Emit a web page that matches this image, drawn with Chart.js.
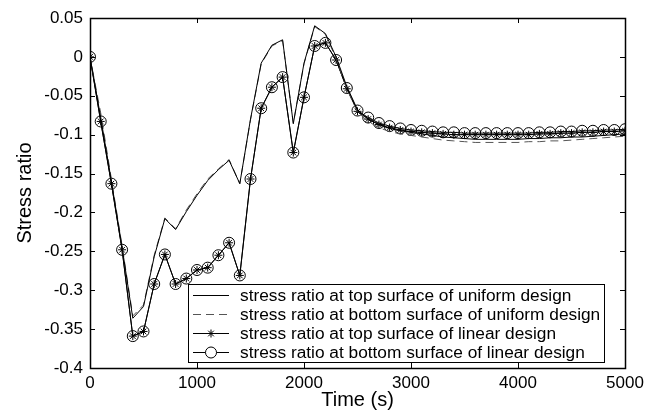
<!DOCTYPE html>
<html>
<head>
<meta charset="utf-8">
<script src="https://cdn.jsdelivr.net/npm/chart.js@4.4.1/dist/chart.umd.min.js"></script>
<style>
html,body{margin:0;padding:0;background:#fff;}
#wrap{width:660px;height:418px;position:relative;}
</style>
</head>
<body>
<div id="wrap"><canvas id="c" width="660" height="418"></canvas></div>
<script>
const timeValues = [0,100,200,300,400,500,600,700,800,900,1000,1100,1200,1300,1400,1500,1600,1700,1800,1900,2000,2100,2200,2300,2400,2500,2600,2700,2800,2900,3000,3100,3200,3300,3400,3500,3600,3700,3800,3900,4000,4100,4200,4300,4400,4500,4600,4700,4800,4900,5000];

const uniformTop = [0,-0.078,-0.160,-0.245,-0.336,-0.321,-0.257,-0.208,-0.222,-0.199,-0.178,-0.159,-0.145,-0.133,-0.163,-0.080,-0.008,0.015,0.022,-0.086,-0.008,0.040,0.030,0.000,-0.038,-0.068,-0.080,-0.087,-0.092,-0.095,-0.097,-0.099,-0.101,-0.103,-0.104,-0.105,-0.106,-0.106,-0.106,-0.106,-0.106,-0.105,-0.105,-0.104,-0.104,-0.103,-0.103,-0.102,-0.101,-0.100,-0.099];

const uniformBottom = [0,-0.072,-0.157,-0.243,-0.333,-0.319,-0.255,-0.207,-0.221,-0.197,-0.176,-0.157,-0.144,-0.132,-0.163,-0.081,-0.009,0.014,0.021,-0.085,-0.009,0.039,0.029,-0.002,-0.041,-0.071,-0.083,-0.091,-0.096,-0.099,-0.101,-0.103,-0.105,-0.107,-0.108,-0.109,-0.110,-0.110,-0.110,-0.110,-0.110,-0.109,-0.109,-0.108,-0.108,-0.107,-0.106,-0.105,-0.104,-0.103,-0.102];

const linearTop = [0,-0.083,-0.163,-0.248,-0.359,-0.353,-0.292,-0.254,-0.292,-0.285,-0.274,-0.271,-0.255,-0.239,-0.281,-0.157,-0.066,-0.039,-0.026,-0.123,-0.052,0.014,0.018,-0.004,-0.041,-0.070,-0.080,-0.087,-0.091,-0.094,-0.096,-0.097,-0.098,-0.099,-0.100,-0.100,-0.100,-0.100,-0.100,-0.100,-0.100,-0.100,-0.099,-0.099,-0.098,-0.098,-0.097,-0.097,-0.096,-0.096,-0.095];

const linearBottom = [0,-0.083,-0.163,-0.248,-0.359,-0.353,-0.292,-0.254,-0.292,-0.285,-0.274,-0.271,-0.255,-0.239,-0.281,-0.157,-0.066,-0.039,-0.026,-0.123,-0.052,0.014,0.018,-0.004,-0.040,-0.069,-0.078,-0.085,-0.089,-0.092,-0.094,-0.095,-0.096,-0.097,-0.097,-0.098,-0.098,-0.098,-0.098,-0.098,-0.098,-0.098,-0.097,-0.097,-0.096,-0.096,-0.095,-0.095,-0.094,-0.094,-0.093];

const xTickLabels = ['0','1000','2000','3000','4000','5000'];
const xTickValues = [0,1000,2000,3000,4000,5000];
const yTickLabels = ['0.05','0','-0.05','-0.1','-0.15','-0.2','-0.25','-0.3','-0.35','-0.4'];
const yTickValues = [0.05,0,-0.05,-0.1,-0.15,-0.2,-0.25,-0.3,-0.35,-0.4];

const legendLabels = [
  'stress ratio at top surface of uniform design',
  'stress ratio at bottom surface of uniform design',
  'stress ratio at top surface of linear design',
  'stress ratio at bottom surface of linear design'
];

const FONT = '"Liberation Sans", Arial, sans-serif';

function pts(arr){ return timeValues.map((t,i)=>({x:t,y:arr[i]})); }

const framePlugin = {
  id:'frame',
  afterDatasetsDraw(chart){
    const ctx = chart.ctx, a = chart.chartArea;
    const xs = chart.scales.x, ys = chart.scales.y;
    ctx.save();
    ctx.strokeStyle = '#000';
    ctx.lineWidth = 1;
    const tl = 5;
    ctx.beginPath();
    xTickValues.forEach(v=>{
      const px = Math.round(xs.getPixelForValue(v))+0.5;
      ctx.moveTo(px,a.bottom); ctx.lineTo(px,a.bottom-tl);
      ctx.moveTo(px,a.top); ctx.lineTo(px,a.top+tl);
    });
    yTickValues.forEach(v=>{
      const py = Math.round(ys.getPixelForValue(v))+0.5;
      ctx.moveTo(a.left,py); ctx.lineTo(a.left+tl,py);
      ctx.moveTo(a.right,py); ctx.lineTo(a.right-tl,py);
    });
    ctx.stroke();
    ctx.lineWidth = 1.5;
    ctx.strokeRect(Math.round(a.left)+0.5, Math.round(a.top)+0.5, Math.round(a.right-a.left), Math.round(a.bottom-a.top));

    // legend
    const bx = 188, by = 284, bw = 416, bh = 78;
    ctx.fillStyle = '#fff';
    ctx.fillRect(bx,by,bw,bh);
    ctx.lineWidth = 1;
    ctx.strokeStyle = '#000';
    ctx.strokeRect(bx+0.5,by+0.5,bw,bh);
    const rows = [295,314,333,352];
    rows.forEach((ry,i)=>{
      const ds = chart.data.datasets[i];
      ctx.save();
      ctx.strokeStyle = ds.borderColor;
      ctx.lineWidth = ds.borderWidth;
      ctx.setLineDash(ds.borderDash || []);
      ctx.beginPath();
      ctx.moveTo(193,ry+0.5); ctx.lineTo(229,ry+0.5);
      ctx.stroke();
      ctx.restore();
      if (ds.pointRadius > 0) {
        ctx.save();
        ctx.fillStyle = '#fff';
        ctx.strokeStyle = '#000';
        ctx.lineWidth = 1;
        Chart.helpers.drawPoint(ctx, {pointStyle: ds.pointStyle, radius: ds.pointRadius, borderWidth: 1, rotation:0}, 211, ry+0.5);
        ctx.restore();
      }
      ctx.font = '17.3px ' + FONT;
      ctx.textBaseline = 'middle';
      ctx.textAlign = 'left';
      ctx.fillStyle = '#000';
      ctx.fillText(legendLabels[i], 240, ry+1);
    });
    ctx.restore();
  }
};

const common = {fill:false, tension:0, borderWidth:1};

new Chart(document.getElementById('c'), {
  type:'line',
  data:{
    datasets:[
      Object.assign({label:legendLabels[0], data:pts(uniformTop), borderColor:'#000', pointRadius:0}, common),
      Object.assign({label:legendLabels[1], data:pts(uniformBottom), borderColor:'#555', borderDash:[8,5], pointRadius:0}, common),
      Object.assign({label:legendLabels[2], data:pts(linearTop), borderColor:'#000', pointStyle:'star', pointRadius:4, pointBorderColor:'#000', pointBorderWidth:1}, common),
      Object.assign({label:legendLabels[3], data:pts(linearBottom), borderColor:'#000', pointStyle:'circle', pointRadius:5.5, pointBackgroundColor:'rgba(0,0,0,0)', pointBorderColor:'#000', pointBorderWidth:1}, common)
    ]
  },
  options:{
    responsive:false,
    animation:false,
    devicePixelRatio:1,
    layout:{padding:{top:18,right:35,left:0,bottom:0}},
    plugins:{legend:{display:false}, tooltip:{enabled:false}},
    scales:{
      x:{
        type:'linear', min:0, max:5000,
        afterFit(s){ s.height = 50; },
        afterBuildTicks(s){ s.ticks = xTickValues.map(v=>({value:v})); },
        grid:{display:false, drawTicks:false},
        border:{display:false},
        ticks:{color:'#000', font:{family:FONT, size:17}, padding:5, maxRotation:0,
          callback:(v)=>{ const i = xTickValues.indexOf(v); return i>=0 ? xTickLabels[i] : ''; }},
        title:{display:true, text:'Time (s)', color:'#000', font:{family:FONT, size:20}, padding:{top:0,bottom:6}}
      },
      y:{
        type:'linear', min:-0.4, max:0.05,
        afterFit(s){ s.width = 90; },
        afterBuildTicks(s){ s.ticks = yTickValues.map(v=>({value:v})); },
        grid:{display:false, drawTicks:false},
        border:{display:false},
        ticks:{color:'#000', font:{family:FONT, size:17}, padding:7,
          callback:(v)=>{ const i = yTickValues.findIndex(t=>Math.abs(t-v)<1e-9); return i>=0 ? yTickLabels[i] : ''; }},
        title:{display:true, text:'Stress ratio', color:'#000', font:{family:FONT, size:20}, padding:{top:13,bottom:6}}
      }
    }
  },
  plugins:[framePlugin]
});
</script>
</body>
</html>
